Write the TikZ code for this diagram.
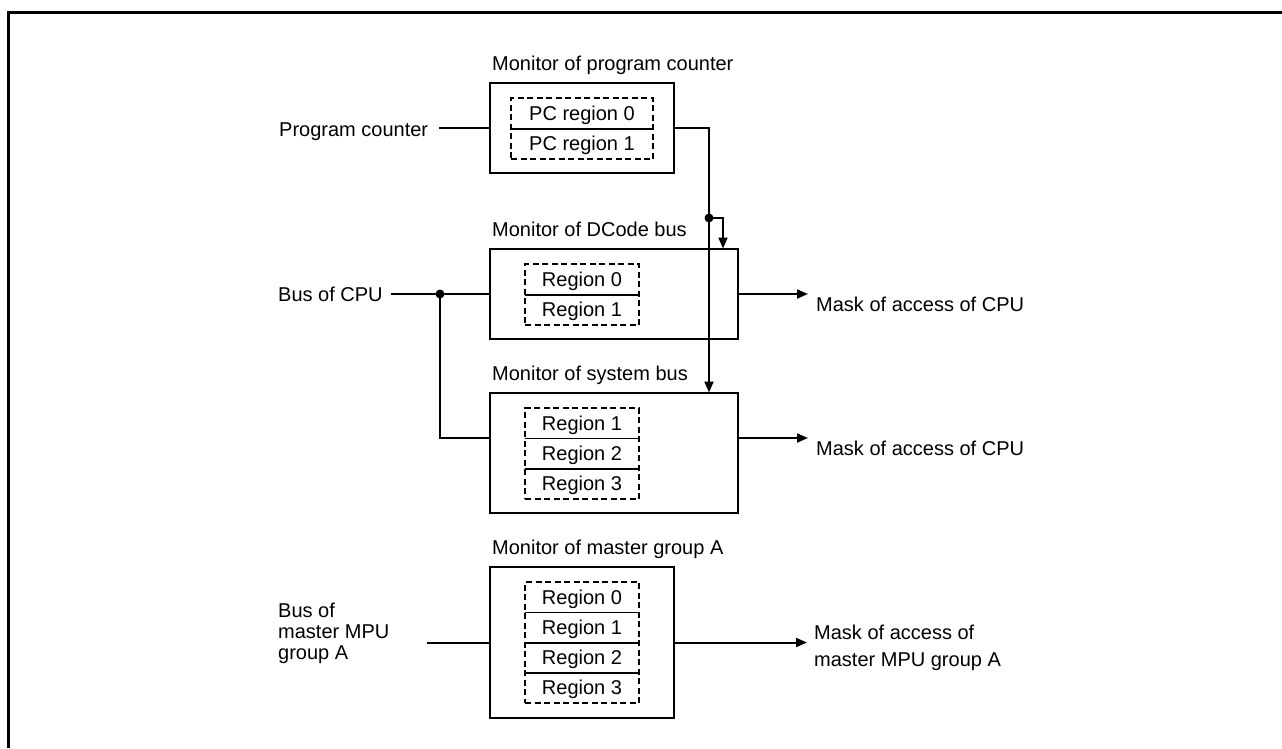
\documentclass[tikz,border=0pt]{standalone}
\usepackage{fontspec}
\setmainfont{Liberation Sans}
\usetikzlibrary{arrows.meta,calc}
\begin{document}
\begin{tikzpicture}[x=1pt,y=-1pt,
  font=\fontsize{20}{24}\selectfont,
  mbox/.style={draw,line width=2.2pt,inner sep=0pt,rectangle},
  dbox/.style={draw,line width=2.5pt,dash pattern=on 6pt off 3.5pt,inner sep=0pt,rectangle},
  rowbox/.style={inner sep=0pt,minimum height=30.3pt,text height=14pt,text depth=0pt,minimum width=114pt},
  divider/.style={line width=1.8pt},
  conn/.style={line width=2pt},
  arr/.style={conn,-{Triangle[length=11pt,width=9pt]}},
  lab/.style={inner sep=0pt,anchor=base west},
  frameline/.style={line width=3.2pt},
  jdot/.style={circle,fill,inner sep=0pt,minimum size=9pt}
]
\useasboundingbox (0,0) rectangle (1282,748);
% frame
\coordinate (f1) at (7,12.5);
\coordinate (f2) at (1282,12.5);
\coordinate (f3) at (8.5,11);
\coordinate (f4) at (8.5,748);
\draw[frameline] (f1) -- (f2);
\draw[frameline] (f3) -- (f4);

% ---------- monitor boxes ----------
\node[mbox,minimum width=184pt,minimum height=90pt] (pc) at (582,128) {};
\node[mbox,minimum width=248pt,minimum height=90pt] (dc) at (614,294) {};
\node[mbox,minimum width=248pt,minimum height=120pt] (sys) at (614,453) {};
\node[mbox,minimum width=184pt,minimum height=151pt] (mg) at (582,642.5) {};

% titles
\node[lab] (pct) at (492,70) {Monitor of program counter};
\node[lab] (dct) at (492,236) {Monitor of DCode bus};
\node[lab] (syst) at (492,380) {Monitor of system bus};
\node[lab] (mgt) at (492,554) {Monitor of master group A};

% ---------- PC regions ----------
\node[dbox,minimum width=142pt,minimum height=61pt] (pcd) at (582,128.5) {};
\node[rowbox,minimum width=142pt] (pc0) at (582,113.25) {PC region 0};
\node[rowbox,minimum width=142pt] (pc1) at (582,143.75) {PC region 1};
\draw[divider] (pc0.south west) -- (pc0.south east);

% ---------- DCode regions ----------
\node[dbox,minimum width=114pt,minimum height=61pt] (dcd) at (582,294.5) {};
\node[rowbox] (dc0) at (582,279.25) {Region 0};
\node[rowbox] (dc1) at (582,309.75) {Region 1};
\draw[divider] (dc0.south west) -- (dc0.south east);

% ---------- system bus regions ----------
\node[dbox,minimum width=114pt,minimum height=91pt] (sysd) at (582,453.5) {};
\node[rowbox] (sy1) at (582,423.2) {Region 1};
\node[rowbox] (sy2) at (582,453.5) {Region 2};
\node[rowbox] (sy3) at (582,483.8) {Region 3};
\draw[divider] (sy1.south west) -- (sy1.south east);
\draw[divider] (sy2.south west) -- (sy2.south east);

% ---------- master group regions ----------
\node[dbox,minimum width=114pt,minimum height=121pt] (mgd) at (582,642.5) {};
\node[rowbox] (mg0) at (582,597.1) {Region 0};
\node[rowbox] (mg1) at (582,627.4) {Region 1};
\node[rowbox] (mg2) at (582,657.6) {Region 2};
\node[rowbox] (mg3) at (582,687.9) {Region 3};
\draw[divider] (mg0.south west) -- (mg0.south east);
\draw[divider] (mg1.south west) -- (mg1.south east);
\draw[divider] (mg2.south west) -- (mg2.south east);

% ---------- side labels ----------
\node[lab] (pclab) at (279,136.5) {Program counter};
\node[lab] (buslab) at (278,301.5) {Bus of CPU};
\node[lab,align=left,font=\fontsize{20}{21}\selectfont] (mglab) at (278,659) {Bus of\\master MPU\\group A};
\node[lab] (dcout) at (816,311.5) {Mask of access of CPU};
\node[lab] (sysout) at (816,455) {Mask of access of CPU};
\node[lab,align=left,font=\fontsize{20}{27}\selectfont] (mgout) at (814,666) {Mask of access of\\master MPU group A};

% ---------- connectors ----------
\coordinate (pcin) at (439,128);
\draw[conn] (pcin) -- (pc.west);
\coordinate (j1) at (709,218);
\coordinate (sysin) at (709,392.5);
\coordinate (dcin) at (723,248.5);
\draw[arr] (pc.east) -| (sysin);
\draw[conn] (j1) -| ($(dcin)+(0,-12)$);
\draw[arr] ($(dcin)+(0,-13)$) -- (dcin);
\node[jdot] (jd1) at (j1) {};

\coordinate (busin) at (391,294);
\coordinate (j2) at (440,294);
\coordinate (sysbus) at (490,438);
\draw[conn] (busin) -- (dc.west);
\draw[conn] (j2) |- (sysbus);
\node[jdot] (jd2) at (j2) {};

\coordinate (dctip) at (808,294);
\coordinate (systip) at (808,438);
\draw[arr] (dc.east) -- (dctip);
\draw[arr] (sys.east |- systip) -- (systip);

\coordinate (mgin) at (427,642.5);
\coordinate (mgtip) at (807,642.5);
\draw[conn] (mgin) -- (mg.west);
\draw[arr] (mg.east) -- (mgtip);
\end{tikzpicture}
\end{document}
